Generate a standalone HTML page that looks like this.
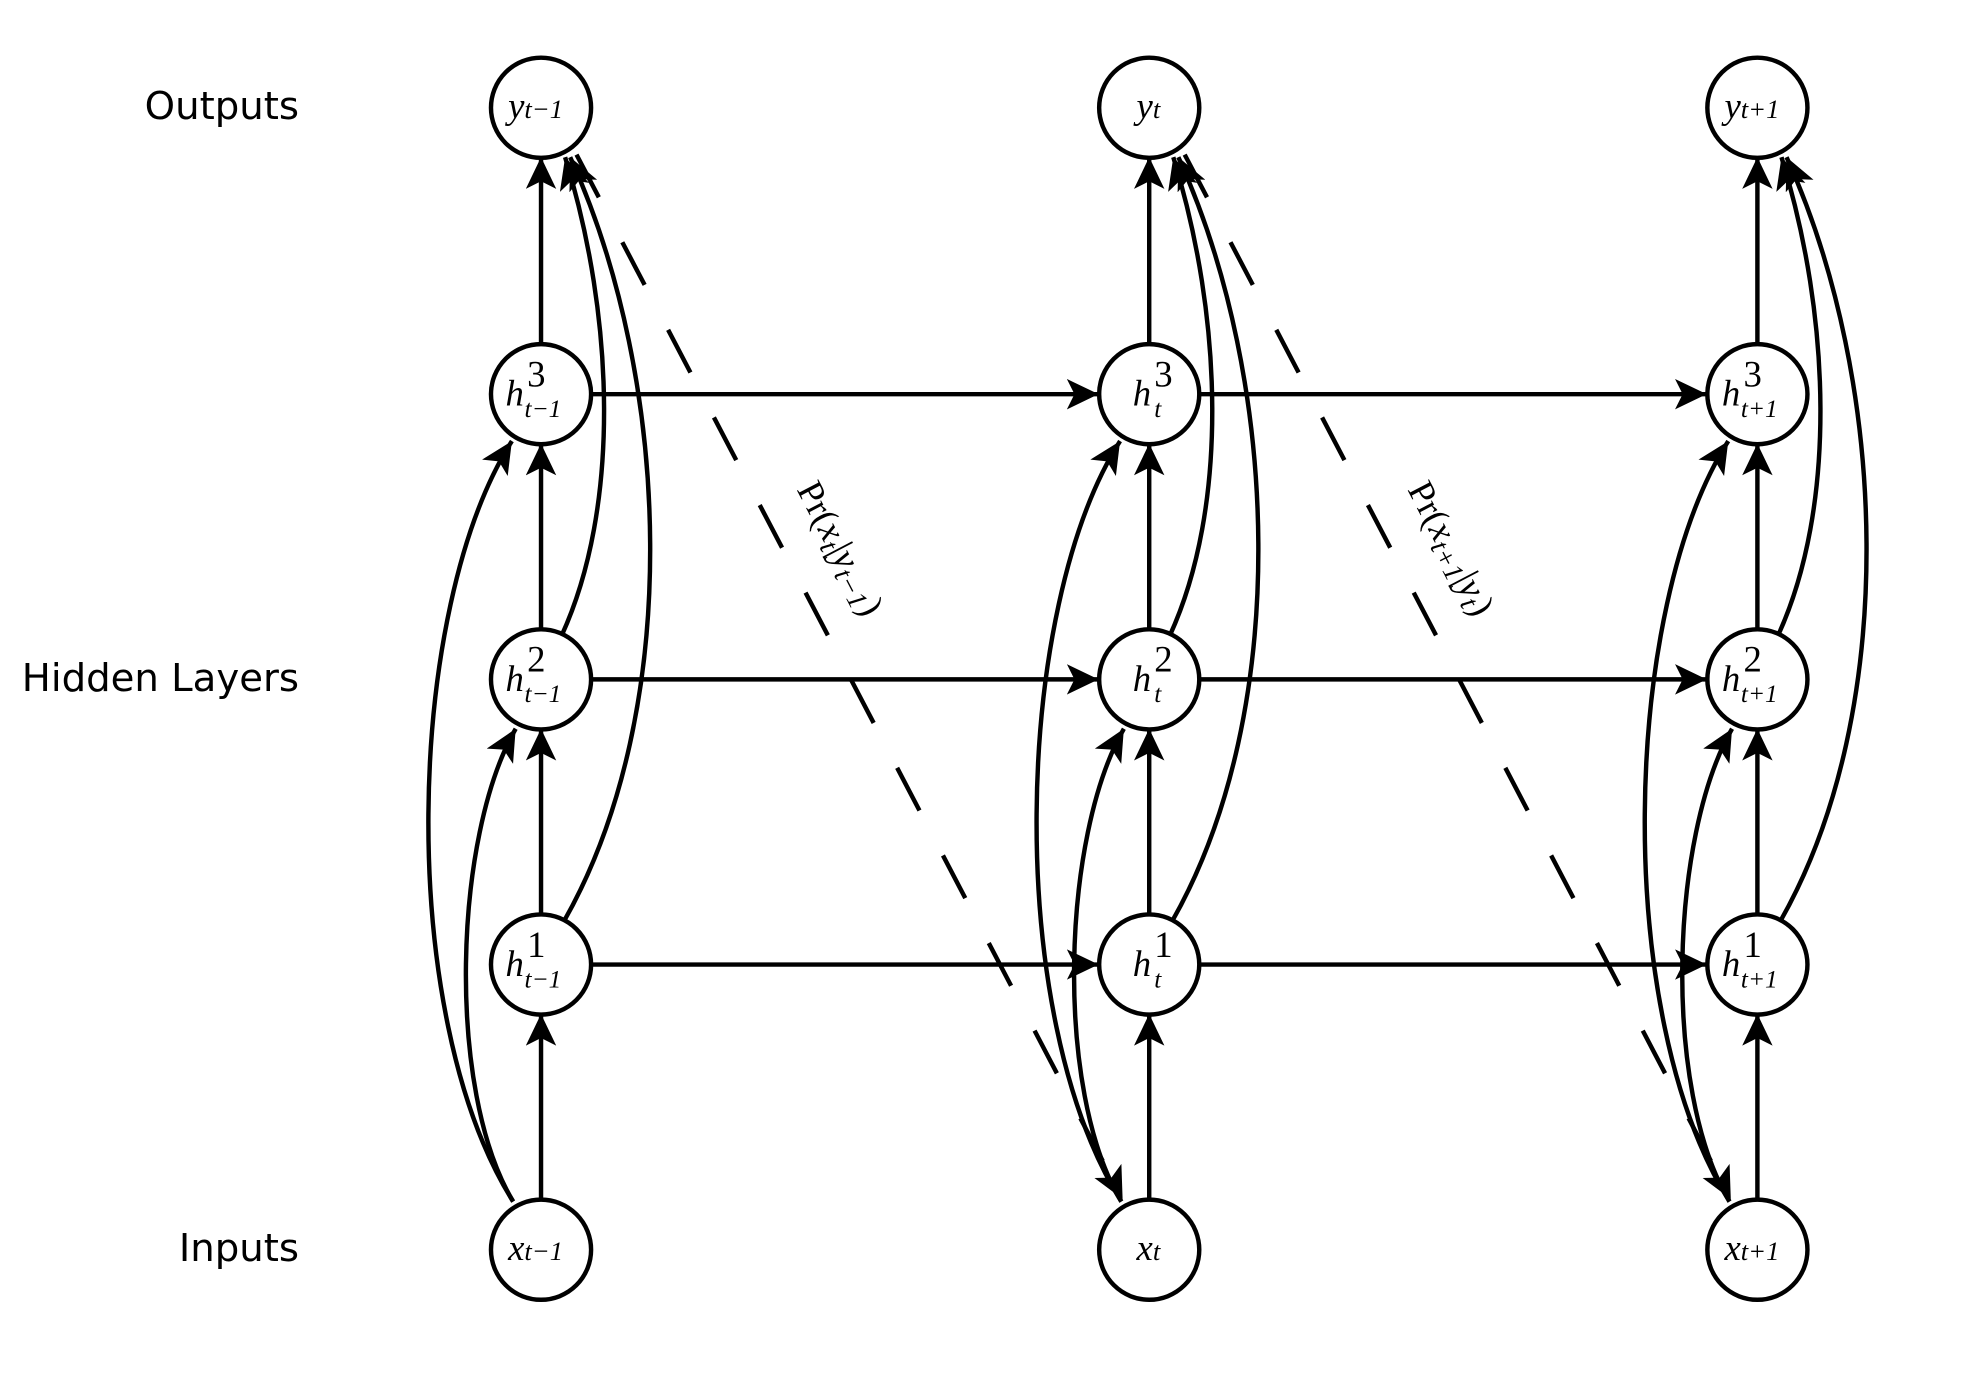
<!DOCTYPE html>
<html><head><meta charset="utf-8">
<style>
html,body{margin:0;padding:0;background:#fff;}
svg{display:block;}
.lbl{font-family:"DejaVu Sans","Liberation Sans",sans-serif;font-size:30.5px;fill:#000;}
.m{font-family:"Liberation Serif",serif;font-style:italic;font-size:29px;fill:#000;}
.r{font-style:normal;}
</style></head><body>
<svg width="1988" height="1398" viewBox="0 0 1569 1103" preserveAspectRatio="none" xmlns="http://www.w3.org/2000/svg">
<defs>
<marker id="a" markerUnits="userSpaceOnUse" markerWidth="30" markerHeight="30" refX="25" refY="12" orient="auto">
<path d="M0,0 L25,12 L0,24 L6,12 Z" fill="#000"/>
</marker>
</defs>
<text class="lbl" x="236" y="94" text-anchor="end">Outputs</text>
<text class="lbl" x="236" y="545" text-anchor="end">Hidden Layers</text>
<text class="lbl" x="236" y="995" text-anchor="end">Inputs</text>

<g fill="none" stroke="#000" stroke-width="3.5">
<g id="col">
<line x1="427" y1="947" x2="427" y2="800" marker-end="url(#a)"/>
<line x1="427" y1="722" x2="427" y2="575" marker-end="url(#a)"/>
<line x1="427" y1="497" x2="427" y2="350" marker-end="url(#a)"/>
<line x1="427" y1="272" x2="427" y2="124" marker-end="url(#a)"/>
<path d="M405,948 C312,800 320,480 404,348" marker-end="url(#a)"/>
<path d="M405,948 C352,860 358,660 407,575" marker-end="url(#a)"/>
<path d="M445,727 C540,560 530,300 450,124" marker-end="url(#a)"/>
<path d="M443,502 C490,400 485,250 446,124" marker-end="url(#a)"/>
</g>
<use href="#col" x="480"/>
<use href="#col" x="960"/>
<line x1="466" y1="311" x2="867" y2="311" marker-end="url(#a)"/>
<line x1="466" y1="536" x2="867" y2="536" marker-end="url(#a)"/>
<line x1="466" y1="761" x2="867" y2="761" marker-end="url(#a)"/>
<line x1="946" y1="311" x2="1347" y2="311" marker-end="url(#a)"/>
<line x1="946" y1="536" x2="1347" y2="536" marker-end="url(#a)"/>
<line x1="946" y1="761" x2="1347" y2="761" marker-end="url(#a)"/>
<line x1="455" y1="122" x2="886" y2="946" stroke-dasharray="38,40" marker-end="url(#a)"/>
<line x1="935" y1="122" x2="1366" y2="946" stroke-dasharray="38,40" marker-end="url(#a)"/>
</g>

<g fill="#fff" stroke="#000" stroke-width="3.5">
<circle cx="427" cy="85" r="39.5"/><circle cx="907" cy="85" r="39.5"/><circle cx="1387" cy="85" r="39.5"/>
<circle cx="427" cy="311" r="39.5"/><circle cx="907" cy="311" r="39.5"/><circle cx="1387" cy="311" r="39.5"/>
<circle cx="427" cy="536" r="39.5"/><circle cx="907" cy="536" r="39.5"/><circle cx="1387" cy="536" r="39.5"/>
<circle cx="427" cy="761" r="39.5"/><circle cx="907" cy="761" r="39.5"/><circle cx="1387" cy="761" r="39.5"/>
<circle cx="427" cy="986" r="39.5"/><circle cx="907" cy="986" r="39.5"/><circle cx="1387" cy="986" r="39.5"/>
</g>

<g class="m">
<text x="401" y="93">y<tspan font-size="21">t−1</tspan></text>
<text x="897" y="93">y<tspan font-size="21">t</tspan></text>
<text x="1361" y="93">y<tspan font-size="21">t+1</tspan></text>
<text x="401" y="994">x<tspan font-size="21">t−1</tspan></text>
<text x="897" y="994">x<tspan font-size="21">t</tspan></text>
<text x="1361" y="994">x<tspan font-size="21">t+1</tspan></text>
</g>
<g class="m">
<text x="399" y="320">h</text><text x="416" y="305" font-size="20" class="m r">3</text><text x="414" y="329" font-size="20">t−1</text>
<text x="399" y="545">h</text><text x="416" y="530" font-size="20" class="m r">2</text><text x="414" y="554" font-size="20">t−1</text>
<text x="399" y="770">h</text><text x="416" y="755" font-size="20" class="m r">1</text><text x="414" y="779" font-size="20">t−1</text>
<text x="894" y="320">h</text><text x="911" y="305" font-size="20" class="m r">3</text><text x="911" y="329" font-size="20">t</text>
<text x="894" y="545">h</text><text x="911" y="530" font-size="20" class="m r">2</text><text x="911" y="554" font-size="20">t</text>
<text x="894" y="770">h</text><text x="911" y="755" font-size="20" class="m r">1</text><text x="911" y="779" font-size="20">t</text>
<text x="1359" y="320">h</text><text x="1376" y="305" font-size="20" class="m r">3</text><text x="1374" y="329" font-size="20">t+1</text>
<text x="1359" y="545">h</text><text x="1376" y="530" font-size="20" class="m r">2</text><text x="1374" y="554" font-size="20">t+1</text>
<text x="1359" y="770">h</text><text x="1376" y="755" font-size="20" class="m r">1</text><text x="1374" y="779" font-size="20">t+1</text>
</g>

<text class="m" transform="translate(655,437) rotate(62.5)" text-anchor="middle" font-size="31"><tspan class="r">Pr(</tspan>x<tspan font-size="22" dy="5">t</tspan><tspan dy="-5" class="r">|</tspan>y<tspan font-size="22" dy="5">t−1</tspan><tspan dy="-5" class="r">)</tspan></text>
<text class="m" transform="translate(1137,437) rotate(62.5)" text-anchor="middle" font-size="31"><tspan class="r">Pr(</tspan>x<tspan font-size="22" dy="5">t+1</tspan><tspan dy="-5" class="r">|</tspan>y<tspan font-size="22" dy="5">t</tspan><tspan dy="-5" class="r">)</tspan></text>
</svg>
</body></html>
